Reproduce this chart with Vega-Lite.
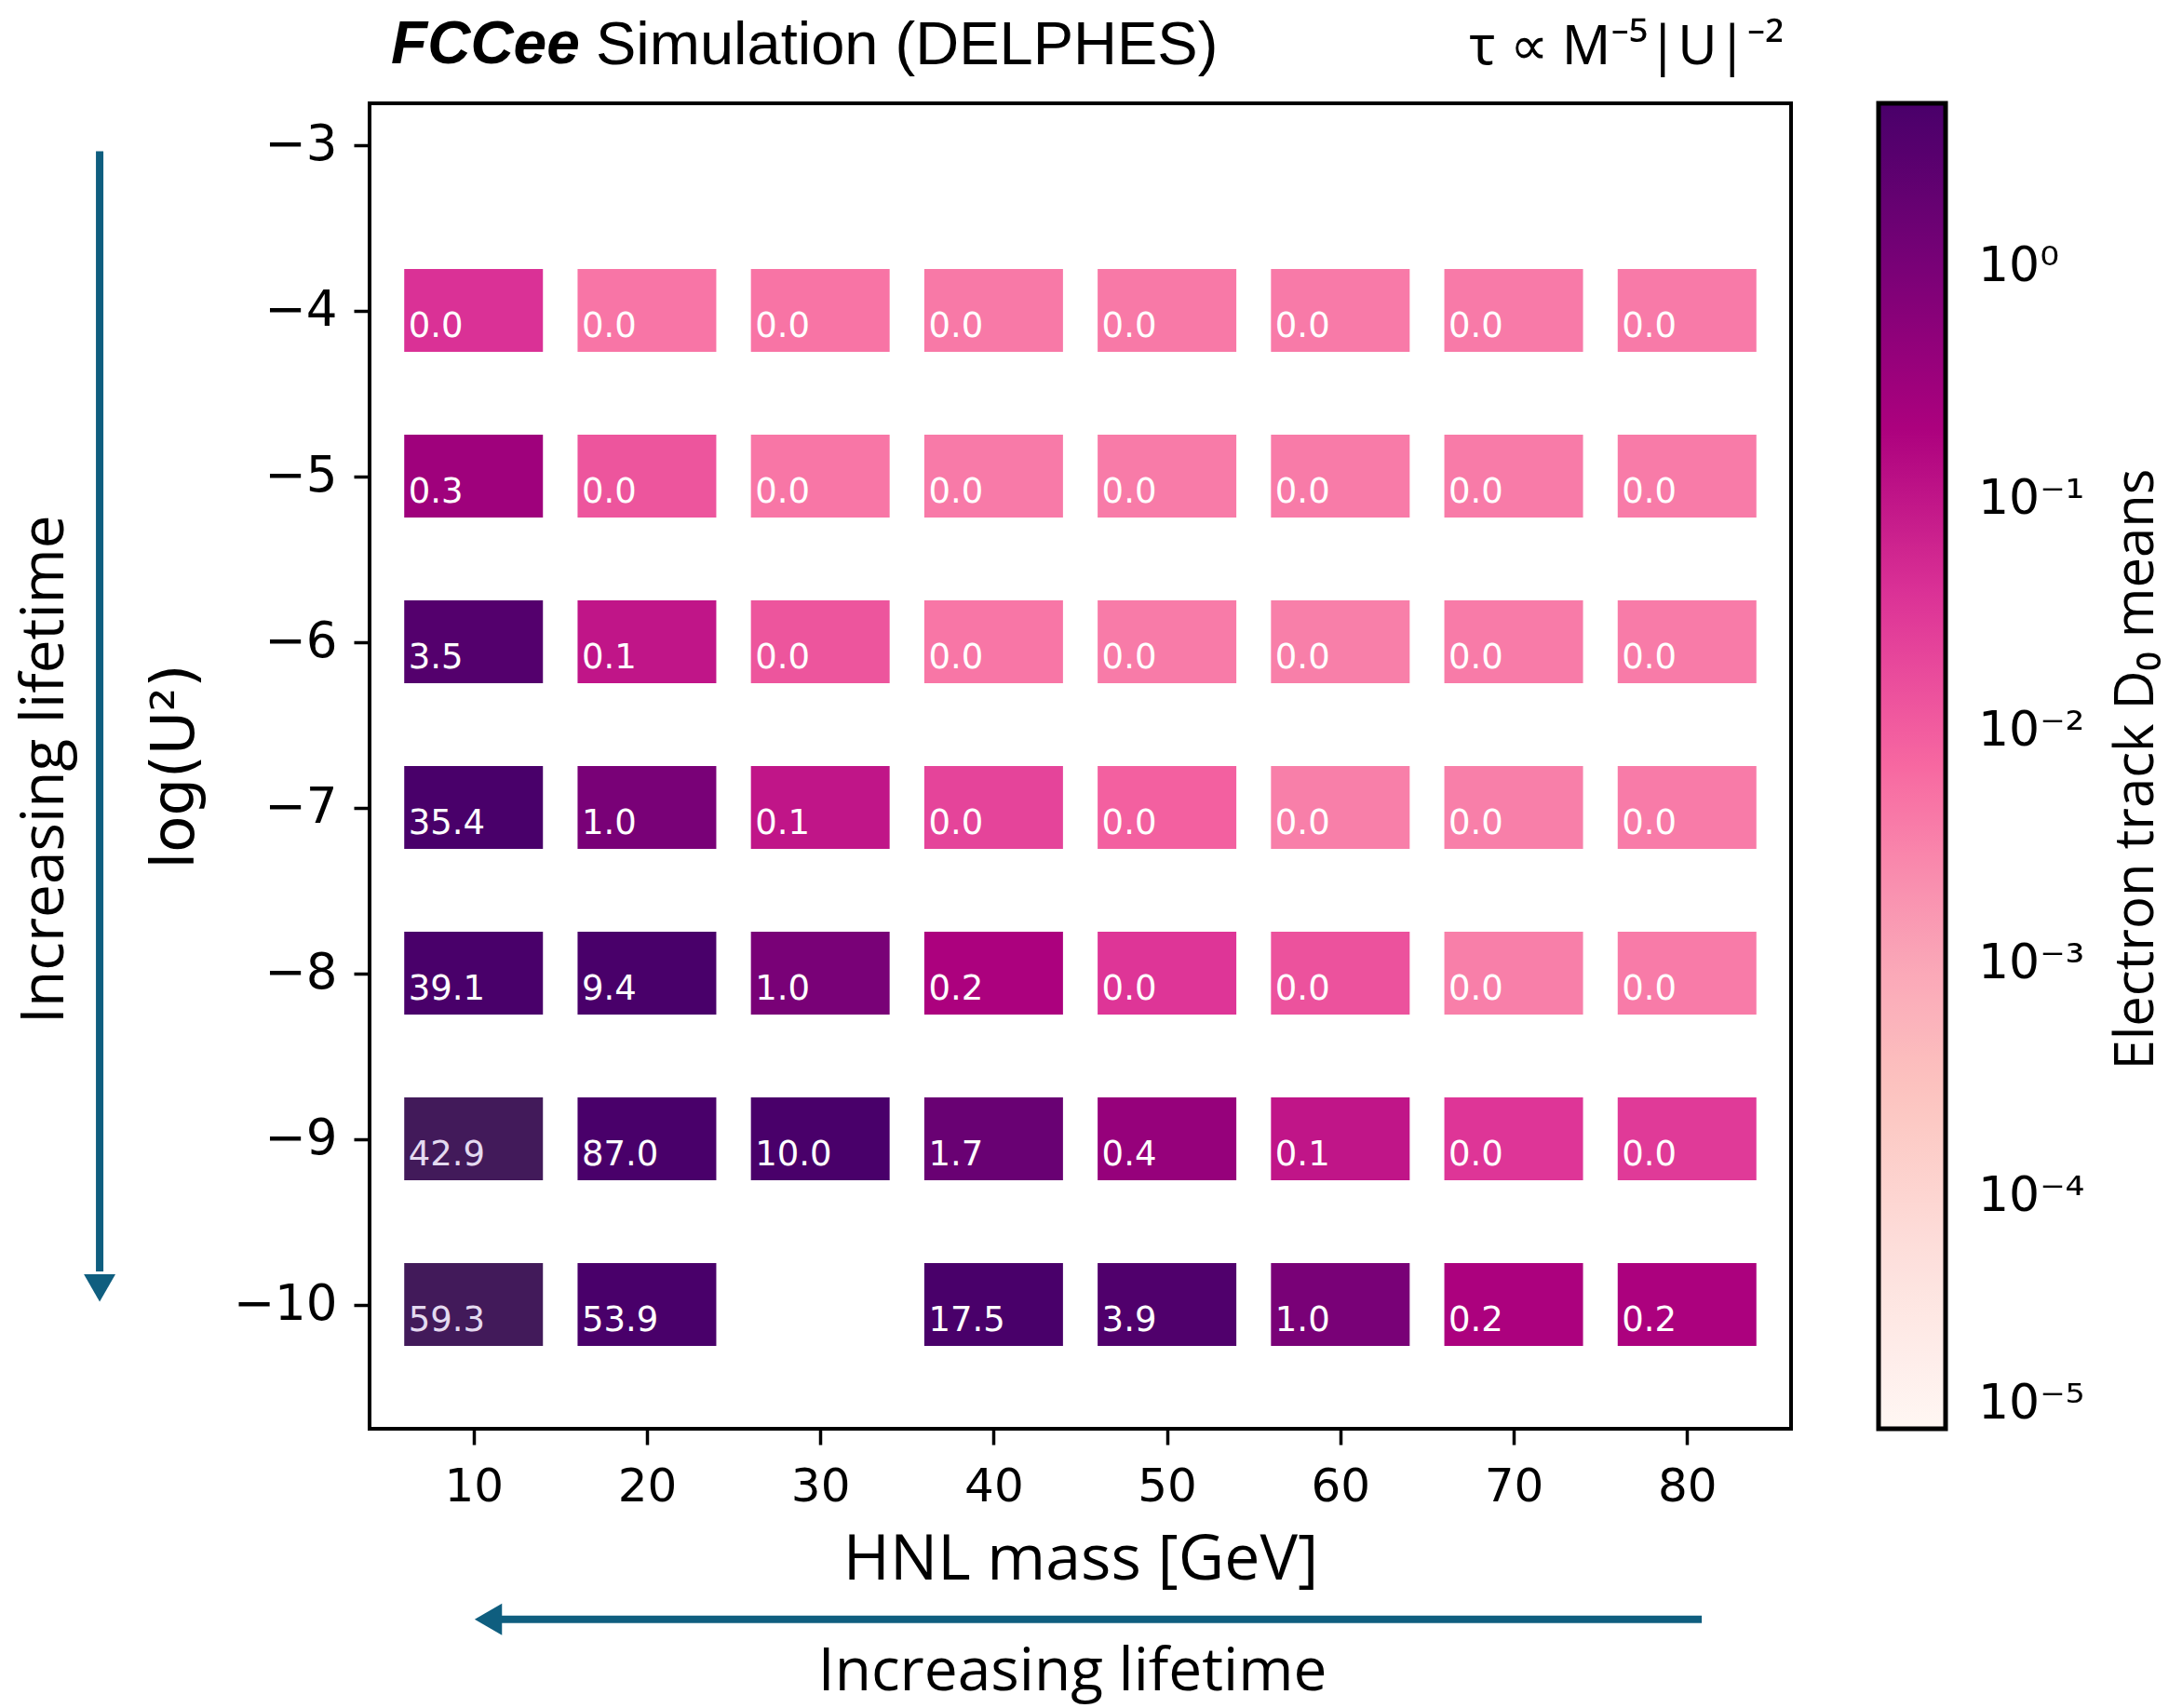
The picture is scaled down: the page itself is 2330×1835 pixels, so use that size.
{
  "$schema": "https://vega.github.io/schema/vega-lite/v6.json",
  "autosize": {"type": "none"},
  "width": 1527,
  "height": 1424,
  "padding": {"left": 397, "top": 111, "right": 406, "bottom": 300},
  "background": "white",
  "config": {
    "view": {"stroke": "black", "strokeWidth": 4},
    "axis": {"grid": false, "domain": false, "tickColor": "black", "tickWidth": 3.5, "tickSize": 17, "labelColor": "black", "titleColor": "black", "labelFont": "DejaVu Sans", "labelFontSize": 50, "titleFontWeight": "normal"}
  },
  "datasets": {
    "cells": [
      {"mass": 10, "logU2": -4, "value": 0.04},
      {"mass": 20, "logU2": -4, "value": 0.0048},
      {"mass": 30, "logU2": -4, "value": 0.005},
      {"mass": 40, "logU2": -4, "value": 0.0042},
      {"mass": 50, "logU2": -4, "value": 0.0042},
      {"mass": 60, "logU2": -4, "value": 0.0041},
      {"mass": 70, "logU2": -4, "value": 0.0041},
      {"mass": 80, "logU2": -4, "value": 0.0041},
      {"mass": 10, "logU2": -5, "value": 0.3},
      {"mass": 20, "logU2": -5, "value": 0.013},
      {"mass": 30, "logU2": -5, "value": 0.0046},
      {"mass": 40, "logU2": -5, "value": 0.0041},
      {"mass": 50, "logU2": -5, "value": 0.004},
      {"mass": 60, "logU2": -5, "value": 0.004},
      {"mass": 70, "logU2": -5, "value": 0.004},
      {"mass": 80, "logU2": -5, "value": 0.004},
      {"mass": 10, "logU2": -6, "value": 3.5},
      {"mass": 20, "logU2": -6, "value": 0.1},
      {"mass": 30, "logU2": -6, "value": 0.013},
      {"mass": 40, "logU2": -6, "value": 0.0046},
      {"mass": 50, "logU2": -6, "value": 0.004},
      {"mass": 60, "logU2": -6, "value": 0.0036},
      {"mass": 70, "logU2": -6, "value": 0.004},
      {"mass": 80, "logU2": -6, "value": 0.004},
      {"mass": 10, "logU2": -7, "value": 35.4},
      {"mass": 20, "logU2": -7, "value": 1.0},
      {"mass": 30, "logU2": -7, "value": 0.1},
      {"mass": 40, "logU2": -7, "value": 0.022},
      {"mass": 50, "logU2": -7, "value": 0.009},
      {"mass": 60, "logU2": -7, "value": 0.0036},
      {"mass": 70, "logU2": -7, "value": 0.0036},
      {"mass": 80, "logU2": -7, "value": 0.004},
      {"mass": 10, "logU2": -8, "value": 39.1},
      {"mass": 20, "logU2": -8, "value": 9.4},
      {"mass": 30, "logU2": -8, "value": 1.0},
      {"mass": 40, "logU2": -8, "value": 0.2},
      {"mass": 50, "logU2": -8, "value": 0.035},
      {"mass": 60, "logU2": -8, "value": 0.014},
      {"mass": 70, "logU2": -8, "value": 0.0036},
      {"mass": 80, "logU2": -8, "value": 0.004},
      {"mass": 10, "logU2": -9, "value": 42.9},
      {"mass": 20, "logU2": -9, "value": 87.0},
      {"mass": 30, "logU2": -9, "value": 10.0},
      {"mass": 40, "logU2": -9, "value": 1.7},
      {"mass": 50, "logU2": -9, "value": 0.4},
      {"mass": 60, "logU2": -9, "value": 0.1},
      {"mass": 70, "logU2": -9, "value": 0.035},
      {"mass": 80, "logU2": -9, "value": 0.03},
      {"mass": 10, "logU2": -10, "value": 59.3},
      {"mass": 20, "logU2": -10, "value": 53.9},
      {"mass": 40, "logU2": -10, "value": 17.5},
      {"mass": 50, "logU2": -10, "value": 3.9},
      {"mass": 60, "logU2": -10, "value": 1.0},
      {"mass": 70, "logU2": -10, "value": 0.2},
      {"mass": 80, "logU2": -10, "value": 0.2}
    ]
  },
  "encoding": {
    "x": {"field": "mass", "type": "quantitative", "scale": {"domain": [4, 86], "nice": false, "zero": false},
      "axis": {"values": [10, 20, 30, 40, 50, 60, 70, 80], "format": "d", "title": "HNL mass [GeV]", "labelPadding": 20, "titleFont": "Open Sans", "titleFontSize": 68, "titlePadding": 20}},
    "y": {"field": "logU2", "type": "quantitative", "scale": {"domain": [-10.75, -2.75], "nice": false, "zero": false},
      "axis": {"values": [-10, -9, -8, -7, -6, -5, -4, -3], "format": "d", "title": "log(U²)", "labelPadding": 18, "labelFontSize": 53, "titleFont": "DejaVu Sans", "titleFontSize": 64, "titlePadding": 30}}
  },
  "layer": [
    {
      "data": {"name": "cells"},
      "mark": {"type": "point", "shape": "M-1,-0.597H1V0.597H-1Z", "size": 22201, "filled": true, "opacity": 1, "strokeWidth": 0},
      "encoding": {
        "color": {
          "condition": {"test": "datum.mass == 10 && datum.logU2 <= -9", "value": "#421a5a"},
          "field": "value", "type": "quantitative",
          "scale": {"type": "log", "domain": [0.00001, 0.00005157, 0.0002659, 0.001371, 0.00707, 0.03646, 0.188, 0.9699, 5], "range": ["#fff7f3", "#fde0dd", "#fcc5c0", "#fa9fb5", "#f768a1", "#dd3497", "#ae017e", "#7a0177", "#49006a"], "interpolate": "rgb", "clamp": true},
          "legend": {
            "title": null,
            "orient": "right", "offset": 94, "padding": 0, "direction": "vertical",
            "gradientLength": 1424, "gradientThickness": 72,
            "gradientStrokeColor": "black", "gradientStrokeWidth": 5,
            "values": [0.00001, 0.0001, 0.001, 0.01, 0.1, 1],
            "labelExpr": "datum.value >= 0.5 ? '10⁰' : datum.value >= 0.05 ? '10⁻¹' : datum.value >= 0.005 ? '10⁻²' : datum.value >= 0.0005 ? '10⁻³' : datum.value >= 0.00005 ? '10⁻⁴' : '10⁻⁵'",
            "labelFont": "DejaVu Sans", "labelFontSize": 52, "labelOffset": 35, "labelColor": "black", "labelOverlap": false, "labelBaseline": "middle"
          }
        }
      }
    },
    {
      "data": {"name": "cells"},
      "mark": {"type": "text", "align": "left", "baseline": "alphabetic", "dx": -70, "dy": 28, "font": "DejaVu Sans", "fontSize": 37},
      "encoding": {
        "text": {"field": "value", "type": "quantitative", "format": ".1f"},
        "color": {"condition": {"test": "datum.mass == 10 && datum.logU2 <= -9", "value": "#e4daf0"}, "value": "white"}
      }
    },
    {
      "data": {"values": [{"mass": -11.57, "logU2": -3.04, "logU2_end": -9.8}]},
      "mark": {"type": "rule", "strokeWidth": 8, "color": "#0f5e7f", "clip": false},
      "encoding": {"y2": {"field": "logU2_end"}}
    },
    {
      "data": {"values": [{"mass": -11.57, "logU2": -9.9}]},
      "mark": {"type": "point", "shape": "triangle-down", "size": 1150, "filled": true, "opacity": 1, "color": "#0f5e7f", "strokeWidth": 0}
    },
    {
      "data": {"values": [{"mass": 11.5, "mass_end": 80.85, "logU2": -11.9}]},
      "mark": {"type": "rule", "strokeWidth": 8, "color": "#0f5e7f", "clip": false},
      "encoding": {"x2": {"field": "mass_end"}}
    },
    {
      "data": {"values": [{"mass": 10.85, "logU2": -11.9}]},
      "mark": {"type": "point", "shape": "triangle-left", "size": 1150, "filled": true, "opacity": 1, "color": "#0f5e7f", "strokeWidth": 0}
    },
    {
      "data": {"values": [{"mass": -14.69, "logU2": -6.77, "label": "Increasing lifetime"}]},
      "mark": {"type": "text", "angle": 270, "align": "center", "baseline": "middle", "font": "Open Sans", "fontSize": 64, "color": "black"},
      "encoding": {"text": {"field": "label"}}
    },
    {
      "data": {"values": [{"mass": 44.55, "logU2": -12.22, "label": "Increasing lifetime"}]},
      "mark": {"type": "text", "align": "center", "baseline": "middle", "font": "Open Sans", "fontSize": 64, "color": "black"},
      "encoding": {"text": {"field": "label"}}
    },
    {
      "data": {"values": [{"mass": 106.0, "logU2": -6.77, "label": "Electron track D₀ means"}]},
      "mark": {"type": "text", "angle": 270, "align": "center", "baseline": "middle", "font": "Open Sans", "fontSize": 58, "color": "black"},
      "encoding": {"text": {"field": "label"}}
    },
    {
      "data": {"values": [{"mass": 5.24, "logU2": -2.4, "label": "FCCee"}]},
      "mark": {"type": "text", "align": "left", "baseline": "middle", "font": "Liberation Sans", "fontStyle": "italic", "fontWeight": "bold", "fontSize": 64, "color": "black"},
      "encoding": {"text": {"field": "label"}}
    },
    {
      "data": {"values": [{"mass": 17.05, "logU2": -2.4, "label": "Simulation (DELPHES)"}]},
      "mark": {"type": "text", "align": "left", "baseline": "middle", "font": "Liberation Sans", "fontSize": 65, "color": "black"},
      "encoding": {"text": {"field": "label"}}
    },
    {
      "data": {"values": [{"mass": 85.6, "logU2": -2.42, "label": "τ  ∝ M⁻⁵|U|⁻²"}]},
      "mark": {"type": "text", "align": "right", "baseline": "middle", "font": "Noto Sans", "fontSize": 58, "color": "black"},
      "encoding": {"text": {"field": "label"}}
    }
  ]
}
